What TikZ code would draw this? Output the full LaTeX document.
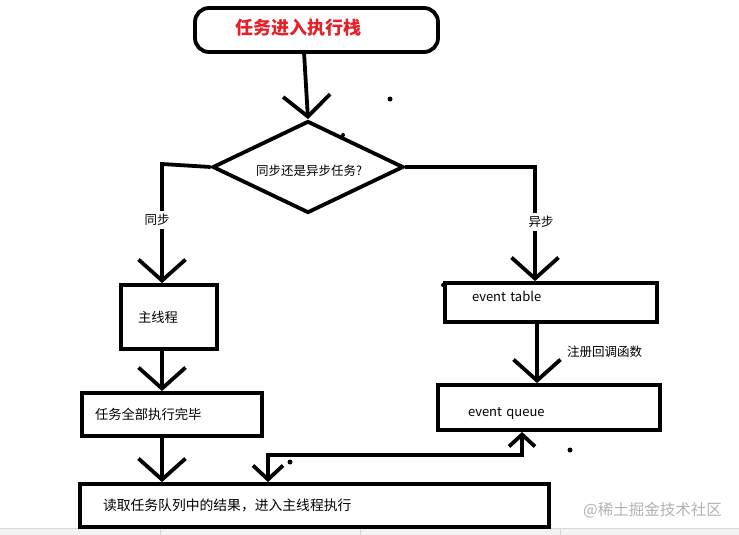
\documentclass[tikz,border=0pt]{standalone}
\usepackage{fontspec}
\newfontfamily\cjk{Noto Sans CJK SC}
\usetikzlibrary{arrows.meta,shapes.geometric}
\definecolor{titlered}{RGB}{230,32,40}
\definecolor{wmgray}{RGB}{178,178,178}
\definecolor{stripgray}{RGB}{243,243,243}
\definecolor{sepgray}{RGB}{215,215,215}
\begin{document}
\begin{tikzpicture}[x=1pt,y=-1pt,
  lw/.style={line width=3.8pt},
  box/.style={draw, line width=3.8pt, inner ysep=0pt, align=left, font=\cjk\fontsize{13.3}{16}\selectfont},
  arr/.style={line width=3.8pt, -{Straight Barb[length=21pt,width=47pt]}},
  arrboth/.style={line width=3.8pt, {Straight Barb[length=12pt,width=26pt]}-{Straight Barb[length=14pt,width=30pt]}},
  lab/.style={font=\cjk\fontsize{12.5}{15}\selectfont, inner sep=1pt},
  blot/.style={circle, fill=black, inner sep=0pt, minimum size=5pt}
]
\useasboundingbox (0,0) rectangle (739,535);
\fill[white] (0,0) rectangle (739,535);
% bottom strip of the screenshot
\fill[stripgray] (0,528) rectangle (739,535);
\draw[sepgray, line width=0.8pt] (0,528) -- (739,528);
\draw[sepgray, line width=0.8pt] (160,528) -- (160,535) (360,528) -- (360,535) (560,528) -- (560,535);

% nodes
\node[draw, line width=3.8pt, rounded corners=14pt, minimum width=243pt, minimum height=44pt, inner sep=0pt] (start) at (316.5,30) {};
\node[anchor=west, inner sep=0pt, text=titlered, font=\cjk\bfseries\fontsize{18}{20}\selectfont] (title) at (235,28) {任务进入执行栈};

\node[draw, diamond, line width=3.8pt, minimum width=191pt, minimum height=92pt, inner sep=0pt] (dia) at (308,167) {};
\node[lab] (q) at (309,171) {同步还是异步任务?};

\node[box, minimum height=64pt, inner xsep=17pt, text width=62pt] (zhu) at (169,317) {主线程};
\node[box, minimum height=43pt, inner xsep=13pt, text width=154pt, text height=11pt, text depth=1pt] (done) at (172,414.5) {任务全部执行完毕};
\node[box, minimum height=43pt, inner xsep=23pt, text width=423pt, font=\cjk\fontsize{13.8}{16}\selectfont] (read) at (314.5,505.5) {读取任务队列中的结果，进入主线程执行};
\node[box, minimum height=39pt, inner xsep=27pt, text width=158pt, text height=8pt, text depth=10pt, font=\cjk\fontsize{13}{16}\selectfont] (et) at (551,302.5) {event table};
\node[box, minimum height=45pt, inner xsep=30pt, text width=162pt, text height=20pt, text depth=2pt, font=\cjk\fontsize{13}{16}\selectfont] (eq) at (549,407.5) {event queue};

% helper coordinates
\coordinate (s1) at (304,52);
\coordinate (lbend) at (162,164);
\coordinate (rbend) at (535,167);
\coordinate (lx) at (162,0);
\coordinate (rx) at (537,0);
\coordinate (qa) at (522,455);
\coordinate (qb) at (268,455);

% connectors
\draw[arr] (s1) -- (dia.north);
\draw[arr] (dia.west) -- (lbend) -- (lbend |- zhu.north);
\draw[arr] (dia.east) -- (rbend) -- (rbend |- et.north);
\draw[arr] (zhu.south -| lx) -- (done.north -| lx);
\draw[arr] (done.south -| lx) -- (read.north -| lx);
\draw[arr] (et.south -| rx) -- (eq.north -| rx);
\draw[arrboth] (eq.south -| qa) -- (qa) -- (qb) -- (read.north -| qb);

% branch labels
\node[lab, fill=white, inner sep=3pt] (sync) at (157,220) {同步};
\node[lab, fill=white, inner sep=3pt] (async) at (541,222) {异步};
\node[lab, anchor=west] (reg) at (566,352) {注册回调函数};

% stray dots of the hand drawing
\node[blot] (d1) at (304,53) {};
\node[blot] (d2) at (390,99) {};
\node[blot, minimum size=4pt] (d3) at (343,135) {};
\node[blot, minimum size=4pt] (d4) at (443,285) {};
\node[blot] (d5) at (570,450) {};
\node[blot] (d6) at (290,462) {};

% watermark
\node[anchor=east, text=wmgray, inner sep=0pt, font=\cjk\fontsize{15.5}{18}\selectfont] (wm) at (722,510) {@稀土掘金技术社区};
\end{tikzpicture}
\end{document}
